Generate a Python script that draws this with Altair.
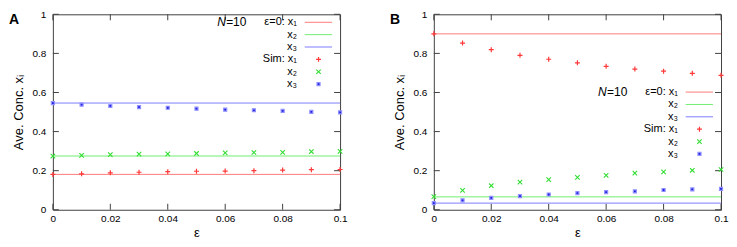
import altair as alt
import pandas as pd

# ---------------- data ----------------
eps = [0.0, 0.01, 0.02, 0.03, 0.04, 0.05, 0.06, 0.07, 0.08, 0.09, 0.1]
x_ticks = [0, 0.02, 0.04, 0.06, 0.08, 0.1]
y_ticks = [0, 0.2, 0.4, 0.6, 0.8, 1.0]
series = ["x₁", "x₂", "x₃"]

# panel A
a_eps0 = [0.181, 0.275, 0.546]
a_sim_x1 = [0.181, 0.184, 0.189, 0.192, 0.195, 0.197, 0.198, 0.200, 0.203, 0.205, 0.206]
a_sim_x2 = [0.274, 0.278, 0.282, 0.285, 0.286, 0.288, 0.291, 0.293, 0.294, 0.298, 0.299]
a_sim_x3 = [0.546, 0.538, 0.531, 0.525, 0.522, 0.517, 0.512, 0.509, 0.506, 0.501, 0.498]

# panel B
b_eps0 = [0.900, 0.066, 0.034]
b_sim_x1 = [0.900, 0.853, 0.819, 0.790, 0.770, 0.752, 0.734, 0.720, 0.709, 0.698, 0.688]
b_sim_x2 = [0.067, 0.099, 0.123, 0.141, 0.154, 0.166, 0.176, 0.187, 0.194, 0.202, 0.206]
b_sim_x3 = [0.034, 0.048, 0.061, 0.070, 0.078, 0.085, 0.090, 0.094, 0.101, 0.104, 0.107]

# ---------------- style ----------------
W, H = 288, 196
FONT = "Liberation Sans"
FRAME = "#404040"
line_cols = ["#ff7a7a", "#70ee70", "#7c7cff"]
pt_cols = ["#ff3838", "#33dd33", "#2222dd"]
PLUS = "M-1,0L1,0M0,-1L0,1"
CROSS = "M-1,-1L1,1M-1,1L1,-1"
KEY_FS = 11
STEP = 12.4

xscale = alt.Scale(domain=[0, 0.1], nice=False, zero=False)
yscale = alt.Scale(domain=[0, 1], nice=False)
xaxis = alt.Axis(values=x_ticks, format="~g", title="ε", labelFlush=False,
                 labelPadding=4, titlePadding=3, labelOverlap=False)
yaxis = alt.Axis(values=y_ticks, format="~g", title="Ave. Conc. xᵢ",
                 labelPadding=7, titlePadding=7, labelOverlap=False)


def X(f):
    return alt.X(f"{f}:Q", scale=xscale, axis=xaxis)


def Y(f):
    return alt.Y(f"{f}:Q", scale=yscale, axis=yaxis)


dummy = pd.DataFrame({"d": [0]})


def point_mark(chart, i):
    if i == 0:
        return chart.mark_point(shape=PLUS, filled=False, size=25, stroke=pt_cols[0],
                                strokeWidth=1.2, opacity=1)
    if i == 1:
        return chart.mark_point(shape=CROSS, filled=False, size=20, stroke=pt_cols[1],
                                strokeWidth=1.1, opacity=1)
    return chart.mark_point(shape="square", filled=True, size=9, fill=pt_cols[2],
                            stroke="#9090ff", strokeWidth=1.2, opacity=1)


def panel(letter, eps0, sims, row0):
    layers = []
    # frame ticks (inward, mirrored)
    ytk = pd.DataFrame({"v": y_ticks})
    xtk = pd.DataFrame({"e": x_ticks})
    layers.append(alt.Chart(ytk).mark_rule(color=FRAME).encode(
        y=Y("v"), x=alt.value(0), x2=alt.value(6)))
    layers.append(alt.Chart(ytk).mark_rule(color=FRAME).encode(
        y=Y("v"), x=alt.value(W - 6), x2=alt.value(W)))
    layers.append(alt.Chart(xtk).mark_rule(color=FRAME).encode(
        x=X("e"), y=alt.value(H - 6), y2=alt.value(H)))
    layers.append(alt.Chart(xtk).mark_rule(color=FRAME).encode(
        x=X("e"), y=alt.value(0), y2=alt.value(6)))
    # eps=0 lines
    for i, v in enumerate(eps0):
        df = pd.DataFrame({"v": [v]})
        layers.append(alt.Chart(df).mark_rule(color=line_cols[i], strokeWidth=1).encode(y=Y("v")))
    # simulation points
    for i, vals in enumerate(sims):
        df = pd.DataFrame({"e": eps, "v": vals})
        layers.append(point_mark(alt.Chart(df), i).encode(x=X("e"), y=Y("v")))
    # key
    tx = 0.85 * W
    lx1, lx2 = 0.877 * W, 0.972 * W
    px = 0.925 * W
    labels = ["ε=0: " + series[0], series[1], series[2],
              "Sim: " + series[0], series[1], series[2]]
    for r, lab in enumerate(labels):
        yy = row0 + r * STEP
        layers.append(alt.Chart(dummy).mark_text(
            text=lab, align="right", baseline="middle", font=FONT, fontSize=KEY_FS,
            color="black").encode(x=alt.value(tx), y=alt.value(yy)))
        if r < 3:
            layers.append(alt.Chart(dummy).mark_rule(color=line_cols[r]).encode(
                x=alt.value(lx1), x2=alt.value(lx2), y=alt.value(yy)))
        else:
            layers.append(point_mark(alt.Chart(dummy), r - 3).encode(
                x=alt.value(px), y=alt.value(yy)))
    nx = 0.572 * W
    layers.append(alt.Chart(dummy).mark_text(
        text="N", align="left", baseline="middle", font=FONT, fontSize=12,
        fontStyle="italic", color="black").encode(x=alt.value(nx), y=alt.value(row0)))
    layers.append(alt.Chart(dummy).mark_text(
        text="=10", align="left", baseline="middle", font=FONT, fontSize=12,
        color="black").encode(x=alt.value(nx + 9), y=alt.value(row0)))
    # panel letter
    layers.append(alt.Chart(dummy).mark_text(
        text=letter, align="left", baseline="top", font=FONT, fontSize=14,
        fontWeight="bold", color="black").encode(x=alt.value(-44), y=alt.value(-1)))
    return alt.layer(*layers).properties(width=W, height=H)


pa = panel("A", a_eps0, [a_sim_x1, a_sim_x2, a_sim_x3], 8)
pb = panel("B", b_eps0, [b_sim_x1, b_sim_x2, b_sim_x3], 78)

chart = alt.hconcat(pa, pb, spacing=41).properties(padding=0).configure(
    font=FONT
).configure_view(stroke=FRAME, strokeWidth=1).configure_axis(
    domain=False, ticks=False, grid=False, labelFont=FONT, labelFontSize=10,
    labelColor="black", titleFont=FONT, titleFontSize=13, titleFontWeight="normal",
    titleColor="black"
)

chart.save("out.html", embed_options={"renderer": "svg", "actions": False})
